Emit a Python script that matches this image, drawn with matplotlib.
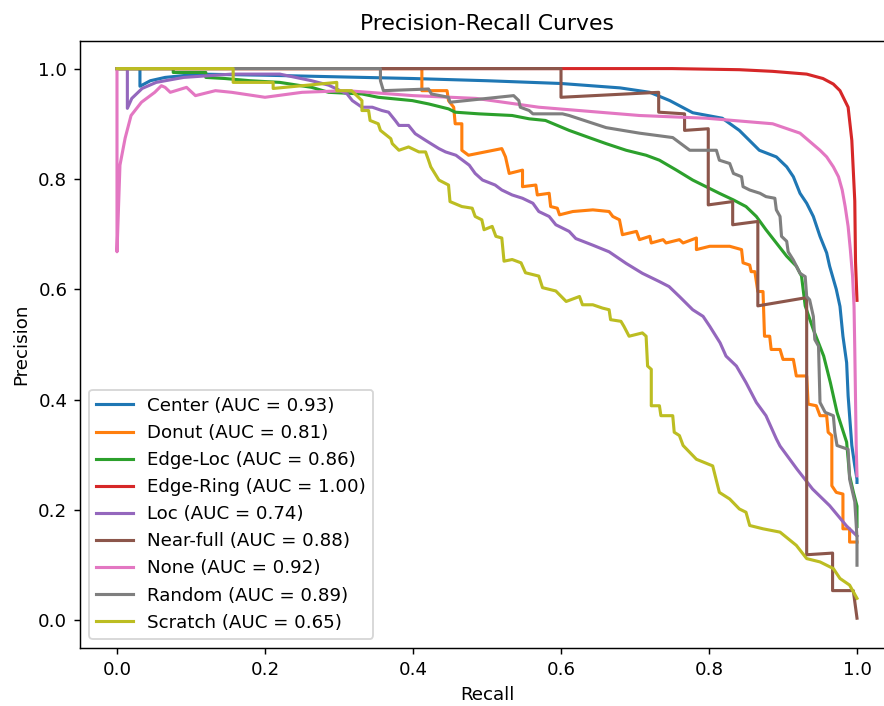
import numpy as np
from matplotlib import pyplot as plt

# 各类别的 PR 曲线点 (recall, precision)
labels = ['Center', 'Donut', 'Edge-Loc', 'Edge-Ring', 'Loc', 'Near-full', 'None', 'Random', 'Scratch']
aucs = [0.93, 0.81, 0.86, 1.00, 0.74, 0.88, 0.92, 0.89, 0.65]

center = [(0.0, 1.0), (0.031, 1.0), (0.031, 0.968), (0.045, 0.978), (0.065, 0.984), (0.11, 0.99), (0.2, 0.988),
          (0.3, 0.985), (0.4, 0.982), (0.5, 0.978), (0.6, 0.973), (0.68, 0.965), (0.72, 0.957), (0.747, 0.942),
          (0.778, 0.92), (0.818, 0.91), (0.841, 0.888), (0.868, 0.852), (0.891, 0.84), (0.905, 0.822),
          (0.914, 0.804), (0.923, 0.774), (0.932, 0.756), (0.941, 0.732), (0.95, 0.696), (0.959, 0.666),
          (0.963, 0.642), (0.972, 0.6), (0.977, 0.569), (0.981, 0.515), (0.986, 0.467), (0.988, 0.407),
          (0.991, 0.353), (0.993, 0.317), (0.997, 0.28), (1.0, 0.256), (1.0, 0.25)]

donut = [(0.0, 1.0), (0.412, 1.0), (0.412, 0.96), (0.446, 0.96), (0.448, 0.942), (0.455, 0.93), (0.457, 0.9),
         (0.466, 0.9), (0.466, 0.852), (0.475, 0.843), (0.52, 0.855), (0.525, 0.84), (0.53, 0.81), (0.548, 0.816),
         (0.548, 0.786), (0.566, 0.789), (0.568, 0.771), (0.584, 0.774), (0.586, 0.75), (0.595, 0.747),
         (0.598, 0.735), (0.616, 0.741), (0.643, 0.744), (0.665, 0.741), (0.67, 0.732), (0.679, 0.726),
         (0.683, 0.699), (0.702, 0.705), (0.706, 0.69), (0.72, 0.696), (0.722, 0.684), (0.738, 0.69),
         (0.742, 0.684), (0.76, 0.69), (0.765, 0.684), (0.783, 0.693), (0.783, 0.672), (0.801, 0.678),
         (0.828, 0.678), (0.844, 0.672), (0.846, 0.648), (0.855, 0.644), (0.857, 0.632), (0.862, 0.632),
         (0.866, 0.596), (0.873, 0.596), (0.875, 0.515), (0.882, 0.515), (0.884, 0.491), (0.896, 0.491),
         (0.9, 0.473), (0.914, 0.473), (0.918, 0.443), (0.932, 0.443), (0.934, 0.392), (0.945, 0.389),
         (0.95, 0.371), (0.959, 0.371), (0.961, 0.341), (0.966, 0.335), (0.966, 0.244), (0.972, 0.232),
         (0.981, 0.229), (0.981, 0.166), (0.99, 0.166), (0.99, 0.142), (1.0, 0.142)]

edge_loc = [(0.0, 1.0), (0.076, 1.0), (0.076, 0.993), (0.12, 0.993), (0.12, 0.984), (0.146, 0.982), (0.18, 0.978),
            (0.22, 0.975), (0.263, 0.966), (0.286, 0.957), (0.331, 0.954), (0.353, 0.948), (0.399, 0.942),
            (0.421, 0.936), (0.448, 0.927), (0.457, 0.921), (0.489, 0.918), (0.534, 0.915), (0.557, 0.909),
            (0.579, 0.906), (0.611, 0.888), (0.64, 0.874), (0.661, 0.864), (0.688, 0.852), (0.715, 0.843),
            (0.733, 0.834), (0.756, 0.816), (0.778, 0.798), (0.796, 0.786), (0.814, 0.774), (0.833, 0.762),
            (0.85, 0.75), (0.864, 0.732), (0.877, 0.708), (0.891, 0.684), (0.905, 0.66), (0.918, 0.642),
            (0.925, 0.624), (0.93, 0.57), (0.941, 0.527), (0.955, 0.479), (0.964, 0.431), (0.973, 0.377),
            (0.986, 0.323), (0.99, 0.262), (0.995, 0.233), (1.0, 0.207), (1.0, 0.17)]

edge_ring = [(0.0, 1.0), (0.75, 1.0), (0.841, 0.998), (0.886, 0.995), (0.932, 0.99), (0.954, 0.982),
             (0.968, 0.972), (0.977, 0.96), (0.988, 0.93), (0.993, 0.87), (0.997, 0.76), (0.998, 0.65),
             (1.0, 0.58)]

loc = [(0.0, 1.0), (0.014, 1.0), (0.014, 0.928), (0.02, 0.946), (0.034, 0.964), (0.053, 0.975), (0.09, 0.984),
       (0.155, 0.99), (0.22, 0.99), (0.263, 0.978), (0.286, 0.97), (0.311, 0.954), (0.318, 0.942), (0.331, 0.93),
       (0.345, 0.93), (0.358, 0.924), (0.367, 0.921), (0.376, 0.906), (0.381, 0.897), (0.394, 0.897),
       (0.403, 0.882), (0.417, 0.87), (0.435, 0.855), (0.444, 0.849), (0.458, 0.843), (0.467, 0.834),
       (0.476, 0.825), (0.484, 0.81), (0.494, 0.798), (0.511, 0.789), (0.52, 0.78), (0.534, 0.771),
       (0.548, 0.765), (0.562, 0.756), (0.57, 0.741), (0.584, 0.732), (0.593, 0.717), (0.611, 0.705),
       (0.62, 0.692), (0.643, 0.68), (0.665, 0.668), (0.688, 0.647), (0.71, 0.629), (0.733, 0.614),
       (0.746, 0.605), (0.76, 0.587), (0.778, 0.563), (0.792, 0.551), (0.801, 0.533), (0.815, 0.503),
       (0.823, 0.479), (0.837, 0.461), (0.85, 0.431), (0.864, 0.395), (0.877, 0.371), (0.891, 0.329),
       (0.896, 0.316), (0.919, 0.274), (0.94, 0.238), (0.963, 0.208), (0.986, 0.171), (1.0, 0.153)]

near_full = [(0.0, 1.0), (0.6, 1.0), (0.6, 0.948), (0.732, 0.957), (0.732, 0.921), (0.767, 0.918), (0.767, 0.888),
             (0.799, 0.891), (0.799, 0.753), (0.832, 0.759), (0.832, 0.717), (0.866, 0.723), (0.866, 0.57),
             (0.932, 0.585), (0.932, 0.119), (0.967, 0.122), (0.967, 0.054), (0.995, 0.054), (1.0, 0.004)]

none = [(0.0, 1.0), (0.0, 0.668), (0.004, 0.825), (0.011, 0.874), (0.019, 0.915), (0.033, 0.939), (0.051, 0.957),
        (0.06, 0.969), (0.065, 0.966), (0.072, 0.957), (0.094, 0.966), (0.106, 0.951), (0.133, 0.96),
        (0.155, 0.957), (0.2, 0.948), (0.25, 0.957), (0.31, 0.96), (0.4, 0.951), (0.485, 0.946), (0.57, 0.93),
        (0.706, 0.915), (0.797, 0.91), (0.886, 0.9), (0.923, 0.883), (0.95, 0.852), (0.959, 0.84),
        (0.968, 0.822), (0.975, 0.804), (0.98, 0.78), (0.984, 0.75), (0.988, 0.714), (0.991, 0.672),
        (0.994, 0.624), (0.996, 0.569), (0.997, 0.491), (0.998, 0.401), (0.999, 0.311), (1.0, 0.262)]

random_ = [(0.0, 1.0), (0.356, 1.0), (0.356, 0.978), (0.36, 0.96), (0.421, 0.963), (0.425, 0.954), (0.448, 0.948),
           (0.45, 0.939), (0.536, 0.951), (0.543, 0.942), (0.545, 0.93), (0.557, 0.924), (0.562, 0.918),
           (0.602, 0.918), (0.611, 0.915), (0.661, 0.893), (0.706, 0.883), (0.751, 0.875), (0.774, 0.852),
           (0.81, 0.852), (0.814, 0.834), (0.828, 0.828), (0.833, 0.81), (0.844, 0.804), (0.846, 0.786),
           (0.855, 0.78), (0.869, 0.774), (0.877, 0.768), (0.889, 0.765), (0.891, 0.744), (0.896, 0.732),
           (0.898, 0.696), (0.905, 0.687), (0.907, 0.668), (0.914, 0.653), (0.923, 0.629), (0.93, 0.623),
           (0.932, 0.587), (0.936, 0.581), (0.941, 0.551), (0.943, 0.509), (0.948, 0.497), (0.95, 0.395),
           (0.957, 0.377), (0.968, 0.371), (0.97, 0.341), (0.973, 0.317), (0.988, 0.31), (0.99, 0.256),
           (0.997, 0.215), (1.0, 0.15), (1.0, 0.1)]

scratch = [(0.0, 1.0), (0.157, 1.0), (0.157, 0.975), (0.211, 0.975), (0.211, 0.964), (0.297, 0.975), (0.297, 0.96),
           (0.317, 0.96), (0.331, 0.942), (0.331, 0.924), (0.34, 0.924), (0.342, 0.906), (0.353, 0.9),
           (0.356, 0.888), (0.37, 0.873), (0.372, 0.864), (0.381, 0.852), (0.394, 0.858), (0.408, 0.849),
           (0.417, 0.849), (0.421, 0.834), (0.424, 0.822), (0.435, 0.798), (0.448, 0.789), (0.45, 0.759),
           (0.466, 0.75), (0.48, 0.747), (0.484, 0.732), (0.493, 0.726), (0.496, 0.708), (0.507, 0.714),
           (0.512, 0.696), (0.52, 0.693), (0.523, 0.651), (0.534, 0.654), (0.546, 0.648), (0.552, 0.63),
           (0.57, 0.624), (0.575, 0.603), (0.593, 0.597), (0.607, 0.578), (0.625, 0.587), (0.629, 0.572),
           (0.643, 0.572), (0.656, 0.566), (0.665, 0.563), (0.667, 0.545), (0.681, 0.542), (0.685, 0.533),
           (0.692, 0.515), (0.71, 0.521), (0.715, 0.515), (0.717, 0.461), (0.722, 0.455), (0.722, 0.389),
           (0.733, 0.389), (0.735, 0.371), (0.751, 0.371), (0.753, 0.341), (0.76, 0.335), (0.765, 0.317),
           (0.783, 0.292), (0.805, 0.28), (0.814, 0.232), (0.828, 0.22), (0.841, 0.202), (0.85, 0.196),
           (0.855, 0.172), (0.873, 0.166), (0.896, 0.16), (0.918, 0.136), (0.932, 0.112), (0.95, 0.106),
           (0.968, 0.094), (0.977, 0.076), (0.99, 0.064), (1.0, 0.04)]

curves = [center, donut, edge_loc, edge_ring, loc, near_full, none, random_, scratch]

dpi = 131
fig = plt.figure(figsize=(884 / dpi, 706 / dpi), dpi=dpi)
ax = fig.add_axes([80 / 884, 58 / 706, 814 / 884, 607 / 706])

for i in range(len(labels)):
    rp = np.array(curves[i])
    ax.plot(rp[:, 0], rp[:, 1], lw=1.7, color='C%d' % i,
            label='%s (AUC = %.2f)' % (labels[i], aucs[i]))

ax.set_xlim(-0.05, 1.05)
ax.set_ylim(-0.05, 1.05)
ax.set_xlabel('Recall')
ax.set_ylabel('Precision')
ax.set_title('Precision-Recall Curves')
ax.legend(loc='lower left')
fig.savefig('out.png', dpi=dpi)
